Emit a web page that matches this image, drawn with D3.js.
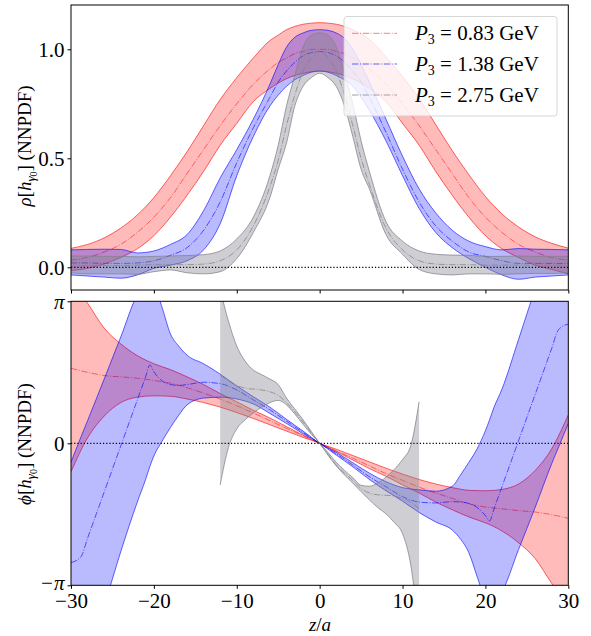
<!DOCTYPE html>
<html><head><meta charset="utf-8">
<script src="https://cdn.jsdelivr.net/npm/d3@7"></script>
<style>
body{margin:0;background:#fff}
svg{display:block}
text{font-family:"Liberation Serif","DejaVu Serif",serif;fill:#000}
</style>
</head><body>
<svg id="chart" width="591" height="636"></svg>
<script>
// ---------------- DATA ----------------
const xTicks = [-30, -20, -10, 0, 10, 20, 30];
const rhoTicks = [0, 0.5, 1.0];
const rhoTickLabels = ["0.0", "0.5", "1.0"];
const phiTicks = [-Math.PI, 0, Math.PI];
const phiTickLabels = ["−π", "0", "π"];
const momenta = ["0.83", "1.38", "2.75"];   // P3 in GeV
const seriesColors = ["#ff0000", "#0000ff", "#80808c"];

// rho panel (modulus)
const rhoZ = [-30,-28,-26,-24,-22,-20,-18,-16,-14,-12,-10,-8,-6,-5,-4,-3,-2,-1,0,1,2,3,4,5,6,8,10,12,14,16,18,20,22,24,26,28,30];
const rhoRedHi  = [0.087,0.105,0.135,0.18,0.24,0.32,0.42,0.53,0.65,0.77,0.87,0.96,1.04, 1.065,1.09,1.105,1.115,1.12,1.122,1.12,1.115,1.105,1.09,1.07, 1.045,0.965,0.875,0.775,0.655,0.535,0.425,0.325,0.245,0.185,0.14,0.11,0.088];
const rhoRedMid = [0.033,0.045,0.07,0.105,0.16,0.23,0.32,0.43,0.54,0.65,0.75,0.84,0.91, 0.94,0.96,0.98,0.99,1.0,1.0,1.0,0.99,0.98,0.96,0.94, 0.91,0.84,0.75,0.65,0.54,0.43,0.32,0.23,0.16,0.105,0.07,0.045,0.033];
const rhoRedLo  = [-0.015,-0.005,0.015,0.045,0.085,0.145,0.23,0.33,0.44,0.56,0.66,0.76,0.82, 0.845,0.865,0.88,0.89,0.897,0.90,0.897,0.89,0.88,0.865,0.845, 0.82,0.76,0.66,0.56,0.44,0.33,0.23,0.145,0.085,0.045,0.01,-0.01,-0.03];
const rhoBlueHi  = [0.08,0.082,0.083,0.082,0.066,0.075,0.105,0.15,0.26,0.41,0.54,0.68,0.84, 0.93,1.01,1.055,1.075,1.087,1.09,1.087,1.075,1.05,1.0,0.93, 0.85,0.68,0.51,0.36,0.25,0.17,0.12,0.095,0.08,0.086,0.083,0.082,0.08];
const rhoBlueMid = [0.02,0.02,0.018,0.018,0.02,0.03,0.055,0.09,0.17,0.30,0.48,0.64,0.78, 0.85,0.90,0.94,0.97,0.985,0.99,0.985,0.97,0.94,0.90,0.85, 0.78,0.62,0.45,0.30,0.19,0.12,0.07,0.05,0.03,0.018,0.018,0.018,0.018];
const rhoBlueLo  = [-0.035,-0.04,-0.045,-0.05,-0.035,-0.005,0.01,0.03,0.08,0.20,0.42,0.60,0.74, 0.79,0.83,0.86,0.88,0.895,0.90,0.895,0.88,0.86,0.83,0.78, 0.72,0.58,0.42,0.27,0.16,0.09,0.04,0.0,-0.035,-0.055,-0.045,-0.04,-0.035];
const rhoGrayHi  = [0.052,0.052,0.05,0.05,0.048,0.05,0.052,0.054,0.058,0.075,0.13,0.23,0.42, 0.56,0.74,0.88,1.01,1.065,1.075,1.065,1.01,0.89,0.75,0.58, 0.44,0.21,0.12,0.075,0.06,0.056,0.055,0.05,0.05,0.052,0.05,0.05,0.05];
const rhoGrayMid = [0.005,0.008,0.008,0.008,0.01,0.012,0.012,0.012,0.015,0.03,0.08,0.19,0.37, 0.49,0.65,0.79,0.90,0.96,0.99,0.96,0.90,0.79,0.65,0.50, 0.38,0.18,0.08,0.03,0.015,0.012,0.012,0.01,0.01,0.01,0.01,0.01,0.01];
const rhoGrayLo  = [-0.025,-0.03,-0.03,-0.03,-0.032,-0.02,-0.012,-0.025,-0.03,-0.02,0.04,0.16,0.32, 0.45,0.57,0.74,0.83,0.87,0.89,0.87,0.83,0.74,0.60,0.45, 0.36,0.15,0.06,-0.01,-0.03,-0.035,-0.03,-0.03,-0.032,-0.03,-0.028,-0.028,-0.025];

// phi panel (phase)
const phiRedZ = [-30,-28,-26,-24,-22,-20,-18,-16,-14,-12,-10,-8,-6,-4,-2,0,2,4,6,8,10,12,14,16,18,20,22,24,26,28,30];
const phiRedHi  = [3.6,3.10,2.55,2.2,1.94,1.76,1.63,1.47,1.30,1.10,0.92,0.73,0.56,0.37,0.18,0,-0.13,-0.27,-0.41,-0.55,-0.68,-0.80,-0.90,-0.98,-1.04,-1.05,-1.02,-0.9,-0.6,-0.12,0.63];
const phiRedMid = [1.66,1.57,1.50,1.47,1.44,1.39,1.33,1.23,1.11,0.98,0.83,0.67,0.50,0.33,0.17,0,-0.17,-0.33,-0.50,-0.67,-0.82,-0.97,-1.10,-1.22,-1.34,-1.41,-1.45,-1.49,-1.52,-1.58,-1.66];
const phiRedLo  = [-0.63,0.12,0.6,0.9,1.02,1.05,1.04,0.98,0.90,0.80,0.68,0.55,0.41,0.27,0.13,0,-0.18,-0.37,-0.56,-0.73,-0.92,-1.10,-1.30,-1.47,-1.63,-1.76,-1.94,-2.2,-2.55,-3.10,-3.6];
const phiBlueZ = [-30,-28.8,-28,-26,-24,-22,-21,-20.5,-20,-19,-18,-17,-16,-14,-12,-10,-8,-6,-4,-2,0,2,4,6,8,10,12,14,16,17,18,19,20,20.5,21,22,24,26,28,28.8,30];
const phiBlueHi  = [-0.42,0.14,0.50,1.42,2.35,3.28,3.5,3.55,3.5,3.0,2.42,2.15,1.95,1.76,1.53,1.27,1.03,0.80,0.53,0.27,0, -0.2,-0.43,-0.66,-0.85,-0.98,-1.03,-1.06,-0.95,-0.7,-0.42,-0.12,0.28,0.52,0.78,1.2,2.3,3.42,4.5,4.9,5.5];
const phiBlueMid = [-2.64,-2.51,-2.10,-1.08,-0.06,0.96,1.47,1.73,1.58,1.38,1.30,1.28,1.30,1.35,1.32,1.18,0.96,0.74,0.49,0.24,0, -0.23,-0.48,-0.74,-0.96,-1.18,-1.30,-1.32,-1.29,-1.30,-1.33,-1.42,-1.60,-1.72,-1.47,-0.96,0.06,1.08,2.10,2.51,2.64];
const phiBlueLo  = [-5.8,-5.15,-4.7,-3.6,-2.4,-1.3,-0.8,-0.52,-0.28,0.05,0.35,0.62,0.85,1.0,1.02,0.98,0.87,0.66,0.44,0.21,0, -0.26,-0.52,-0.80,-1.05,-1.28,-1.53,-1.74,-1.92,-2.12,-2.42,-2.95,-3.45,-3.55,-3.5,-3.28,-2.35,-1.42,-0.45,-0.1,0.44];
const phiGrayZ = [-12,-11,-10,-9,-8,-7,-6,-5,-4,-3,-2,-1,0,1,2,3,4,5,6,7,8,9,10,11,12];
const phiGrayHi  = [3.4,2.7,2.15,1.82,1.62,1.52,1.42,1.3,1.0,0.76,0.52,0.26,0, -0.2,-0.42,-0.6,-0.76,-0.93,-0.95,-0.88,-0.75,-0.58,-0.36,-0.05,0.92];
const phiGrayMid = [1.5,1.38,1.28,1.22,1.2,1.18,1.14,1.06,0.9,0.7,0.47,0.23,0, -0.24,-0.48,-0.66,-0.82,-1.0,-1.1,-1.14,-1.15,-1.17,-1.22,-1.3,-1.45];
const phiGrayLo  = [-0.92,-0.09,0.32,0.52,0.67,0.8,0.9,0.95,0.85,0.65,0.42,0.2,0, -0.26,-0.5,-0.70,-0.88,-1.07,-1.25,-1.42,-1.56,-1.75,-2.0,-2.7,-4.2];

// ---------------- LAYOUT ----------------
const svg = d3.select("#chart");
const L = 71, R = 568.3;
const top1 = 5, bot1 = 290, top2 = 301.3, bot2 = 585.3;
const x = d3.scaleLinear().domain([-30, 30]).range([L, R]);
const yR = d3.scaleLinear().domain([-0.1041, 1.2032]).range([bot1, top1]);
const yP = d3.scaleLinear().domain([-Math.PI, Math.PI]).range([bot2, top2]);

const defs = svg.append("defs");
defs.append("clipPath").attr("id","c1").append("rect").attr("x",L).attr("y",top1).attr("width",R-L).attr("height",bot1-top1);
defs.append("clipPath").attr("id","c2").append("rect").attr("x",L).attr("y",top2).attr("width",R-L).attr("height",bot2-top2);

const fillOp = [0.27, 0.27, 0.38], edgeOp = [0.6, 0.6, 0.75], midOp = [0.5, 0.6, 0.75];
const dashDot = "6.4,1.6,1,1.6";

function band(g, y, zs, lo, mid, hi, k) {
  const data = zs.map((z, i) => ({z, lo: lo[i], mid: mid[i], hi: hi[i]}));
  const col = seriesColors[k];
  g.append("path").datum(data)
    .attr("d", d3.area().x(d => x(d.z)).y0(d => y(d.lo)).y1(d => y(d.hi)).curve(d3.curveMonotoneX))
    .attr("fill", col).attr("fill-opacity", fillOp[k]);
  ["lo", "hi"].forEach(key => {
    g.append("path").datum(data)
      .attr("d", d3.line().x(d => x(d.z)).y(d => y(d[key])).curve(d3.curveMonotoneX))
      .attr("fill", "none").attr("stroke", col).attr("stroke-opacity", edgeOp[k]).attr("stroke-width", 1);
  });
  g.append("path").datum(data)
    .attr("d", d3.line().x(d => x(d.z)).y(d => y(d.mid)).curve(d3.curveMonotoneX))
    .attr("fill", "none").attr("stroke", col).attr("stroke-opacity", midOp[k])
    .attr("stroke-width", 1).attr("stroke-dasharray", dashDot);
}

// top panel
const g1 = svg.append("g").attr("clip-path", "url(#c1)");
band(g1, yR, rhoZ, rhoRedLo, rhoRedMid, rhoRedHi, 0);
band(g1, yR, rhoZ, rhoBlueLo, rhoBlueMid, rhoBlueHi, 1);
band(g1, yR, rhoZ, rhoGrayLo, rhoGrayMid, rhoGrayHi, 2);
g1.append("line").attr("x1", L).attr("x2", R).attr("y1", yR(0)).attr("y2", yR(0))
  .attr("stroke", "#000").attr("stroke-width", 1.2).attr("stroke-dasharray", "1.2,2");

// bottom panel
const g2 = svg.append("g").attr("clip-path", "url(#c2)");
band(g2, yP, phiRedZ, phiRedLo, phiRedMid, phiRedHi, 0);
band(g2, yP, phiBlueZ, phiBlueLo, phiBlueMid, phiBlueHi, 1);
band(g2, yP, phiGrayZ, phiGrayLo, phiGrayMid, phiGrayHi, 2);
g2.append("line").attr("x1", L).attr("x2", R).attr("y1", yP(0)).attr("y2", yP(0))
  .attr("stroke", "#000").attr("stroke-width", 1.2).attr("stroke-dasharray", "1.2,2");

// axes
const fmtX = d => d < 0 ? "−" + Math.abs(d) : String(d);
function styleAxis(sel, fs) {
  sel.select(".domain").remove();
  sel.selectAll(".tick line").attr("stroke", "#000").attr("stroke-width", 1);
  sel.selectAll(".tick text").style("font-size", fs + "px")
    .style("font-family", '"Liberation Serif","DejaVu Serif",serif').attr("fill", "#000");
}
svg.append("g").attr("transform", `translate(0,${bot1})`)
  .call(d3.axisBottom(x).tickValues(xTicks).tickSize(3.5).tickFormat(""))
  .call(s => styleAxis(s, 21));
svg.append("g").attr("transform", `translate(0,${bot2})`)
  .call(d3.axisBottom(x).tickValues(xTicks).tickSize(3.5).tickPadding(4).tickFormat(fmtX))
  .call(s => styleAxis(s, 21));
svg.append("g").attr("transform", `translate(${L},0)`)
  .call(d3.axisLeft(yR).tickValues(rhoTicks).tickSize(3.5).tickPadding(3).tickFormat((d, i) => rhoTickLabels[i]))
  .call(s => styleAxis(s, 21));
svg.append("g").attr("transform", `translate(${L},0)`)
  .call(d3.axisLeft(yP).tickValues(phiTicks).tickSize(3.5).tickPadding(3).tickFormat((d, i) => phiTickLabels[i]))
  .call(s => {
    styleAxis(s, 21);
    s.selectAll(".tick text").style("font-style", "italic");
    s.selectAll(".tick text").filter((d, i) => i === 1).style("font-style", "normal");
    s.selectAll(".tick text").filter((d, i) => i === 0).attr("y", -3);
  });

// frames
[[top1, bot1], [top2, bot2]].forEach(([a, b]) => {
  svg.append("rect").attr("x", L).attr("y", a).attr("width", R - L).attr("height", b - a)
    .attr("fill", "none").attr("stroke", "#000").attr("stroke-width", 1);
});

// axis labels
function yLabel(cx, cy, sym) {
  const t = svg.append("text").attr("transform", `translate(${cx},${cy}) rotate(-90)`)
    .attr("text-anchor", "middle").style("font-size", "19px");
  t.append("tspan").text(sym).style("font-style", "italic");
  t.append("tspan").text("[");
  t.append("tspan").text("h").style("font-style", "italic");
  t.append("tspan").text("γ").style("font-style", "italic").style("font-size", "13px").attr("dy", 4);
  t.append("tspan").text("0").style("font-size", "10px").attr("dy", 2);
  t.append("tspan").text("] (NNPDF)").attr("dy", -6);
}
yLabel(31, 146, "ρ");
yLabel(31, 444, "ϕ");

const xl = svg.append("text").attr("x", 320).attr("y", 631).attr("text-anchor", "middle").style("font-size", "19px");
xl.append("tspan").text("z").style("font-style", "italic");
xl.append("tspan").text("/");
xl.append("tspan").text("a").style("font-style", "italic");

// legend
const lg = svg.append("g");
lg.append("rect").attr("x", 344).attr("y", 16.5).attr("width", 213).attr("height", 99.5).attr("rx", 3)
  .attr("fill", "#fff").attr("fill-opacity", 0.8).attr("stroke", "#ccc").attr("stroke-opacity", 0.8).attr("stroke-width", 1);
const rowY = [33.3, 64, 95];
momenta.forEach((m, k) => {
  lg.append("line").attr("x1", 352).attr("x2", 397).attr("y1", rowY[k]).attr("y2", rowY[k])
    .attr("stroke", seriesColors[k]).attr("stroke-opacity", midOp[k]).attr("stroke-width", 1)
    .attr("stroke-dasharray", dashDot);
  const t = lg.append("text").attr("x", 415).attr("y", rowY[k] + 6.5).style("font-size", "21px");
  t.append("tspan").text("P").style("font-style", "italic");
  t.append("tspan").text("3").style("font-size", "14px").attr("dy", 4);
  t.append("tspan").text(" = " + m + " GeV").attr("dy", -4);
});
</script>
</body></html>
